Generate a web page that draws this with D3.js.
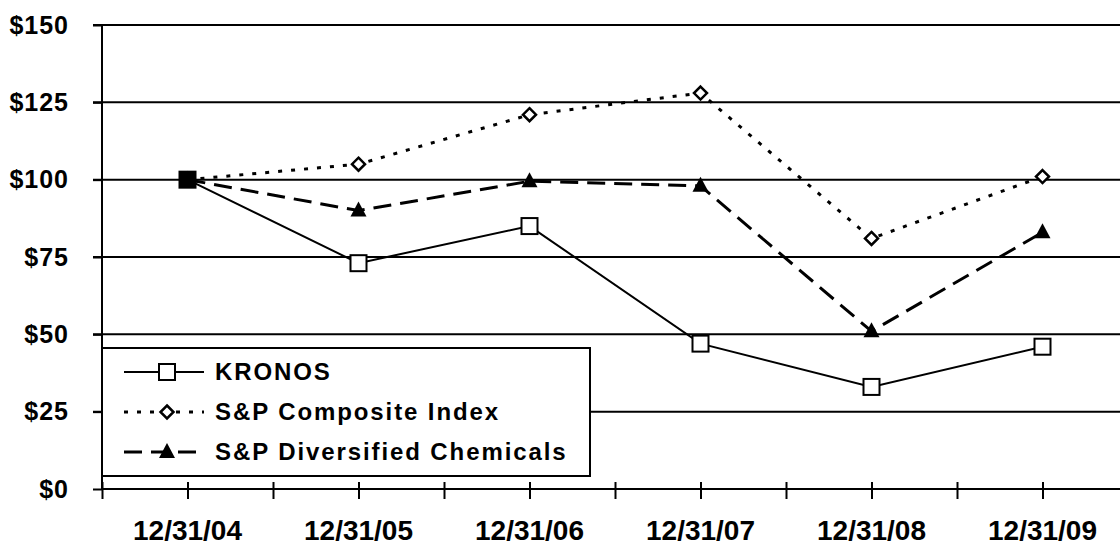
<!DOCTYPE html>
<html>
<head>
<meta charset="utf-8">
<script src="https://cdn.jsdelivr.net/npm/d3@7"></script>
<style>
  body { margin: 0; background: #fff; }
  svg { display: block; }
  text { font-family: "Liberation Sans", Arial, sans-serif; font-weight: bold; fill: #000; }
</style>
</head>
<body>
<div id="chart"></div>
<script>
const dates = ["12/31/04", "12/31/05", "12/31/06", "12/31/07", "12/31/08", "12/31/09"]
const kronos = [100, 73, 85, 47, 33, 46]
const composite = [100, 105, 121, 128, 81, 101]
const chemicals = [100, 90, 99.5, 98, 51, 83]
const yTicks = [0, 25, 50, 75, 100, 125, 150]

const width = 1120
const height = 546
const plotLeft = 102, plotRight = 1128, plotTop = 25, plotBottom = 489

const svg = d3.select("#chart")
    .append("svg")
    .attr("width", width)
    .attr("height", height)

const x = d3.scaleLinear()
    .domain([-0.5, dates.length - 0.5])
    .range([plotLeft, plotRight])

const y = d3.scaleLinear()
    .domain([0, 150])
    .range([plotBottom, plotTop])

// gridlines
svg.append("g")
    .selectAll("line")
    .data(yTicks.filter(d => d > 0))
    .join("line")
    .attr("x1", plotLeft - 9)
    .attr("x2", width)
    .attr("y1", d => y(d))
    .attr("y2", d => y(d))
    .attr("stroke", "#000")
    .attr("stroke-width", 2)

// y axis
const yAxis = d3.axisLeft(y)
    .tickValues(yTicks)
    .tickSize(9)
    .tickPadding(24)
    .tickFormat(d => "$" + d)

svg.append("g")
    .attr("transform", `translate(${plotLeft},0)`)
    .call(yAxis)
    .call(g => g.select(".domain").attr("stroke-width", 2).attr("d", `M0,${plotTop}V${plotBottom}`))
    .call(g => g.selectAll(".tick line").attr("stroke-width", 2))
    .call(g => g.selectAll(".tick text")
        .attr("font-size", 25)
        .attr("letter-spacing", 1)
        .attr("font-family", "Liberation Sans, Arial, sans-serif")
        .attr("font-weight", "bold"))

// x axis
const xAxis = d3.axisBottom(x)
    .tickValues(d3.range(-0.5, dates.length, 0.5))
    .tickSize(10)
    .tickFormat("")

svg.append("g")
    .attr("transform", `translate(0,${plotBottom})`)
    .call(xAxis)
    .call(g => g.select(".domain").attr("stroke-width", 2).attr("d", `M${plotLeft},0H${width}`))
    .call(g => g.selectAll(".tick line").attr("stroke-width", 2).attr("y1", -7))

svg.append("g")
    .selectAll("text")
    .data(dates)
    .join("text")
    .attr("x", (d, i) => x(i))
    .attr("y", 540)
    .attr("text-anchor", "middle")
    .attr("font-size", 28)
    .text(d => d)

const line = d3.line()
    .x((d, i) => x(i))
    .y(d => y(d))

const series = [
    {name: "KRONOS", values: kronos, dash: null, marker: "square"},
    {name: "S&P Composite Index", values: composite, dash: "4,9", marker: "diamond"},
    {name: "S&P Diversified Chemicals", values: chemicals, dash: "18,9", marker: "triangle"}
]

function drawMarker(g, type, cx, cy) {
    if (type === "square") {
        g.append("rect")
            .attr("x", cx - 8).attr("y", cy - 8)
            .attr("width", 16).attr("height", 16)
            .attr("fill", "#fff").attr("stroke", "#000").attr("stroke-width", 2)
    } else if (type === "diamond") {
        g.append("path")
            .attr("d", `M${cx},${cy - 6.5}L${cx + 6.5},${cy}L${cx},${cy + 6.5}L${cx - 6.5},${cy}Z`)
            .attr("fill", "#fff").attr("stroke", "#000").attr("stroke-width", 2.5)
    } else {
        g.append("path")
            .attr("d", `M${cx},${cy - 9}L${cx + 8},${cy + 6}L${cx - 8},${cy + 6}Z`)
            .attr("fill", "#000")
    }
}

series.forEach(s => {
    const g = svg.append("g")
    g.append("path")
        .datum(s.values)
        .attr("d", line)
        .attr("fill", "none")
        .attr("stroke", "#000")
        .attr("stroke-width", s.marker === "square" ? 2 : 3)
        .attr("stroke-dasharray", s.dash)
    s.values.forEach((v, i) => drawMarker(g, s.marker, x(i), y(v)))
})

// first point overlap shows filled
svg.append("rect")
    .attr("x", x(0) - 8).attr("y", y(100) - 8)
    .attr("width", 16).attr("height", 16)
    .attr("fill", "#000")

// legend
const legend = svg.append("g")
legend.append("rect")
    .attr("x", plotLeft).attr("y", 348)
    .attr("width", 488).attr("height", 128)
    .attr("fill", "#fff").attr("stroke", "#000").attr("stroke-width", 2)

series.forEach((s, i) => {
    const ly = 372 + i * 40
    legend.append("line")
        .attr("x1", 124).attr("x2", 204)
        .attr("y1", ly).attr("y2", ly)
        .attr("stroke", "#000")
        .attr("stroke-width", s.marker === "square" ? 2 : 3)
        .attr("stroke-dasharray", s.dash)
    drawMarker(legend, s.marker, 167, ly)
    legend.append("text")
        .attr("x", 215).attr("y", ly + 8)
        .attr("font-size", 24)
        .attr("letter-spacing", 1.9)
        .text(s.name)
})
</script>
</body>
</html>
